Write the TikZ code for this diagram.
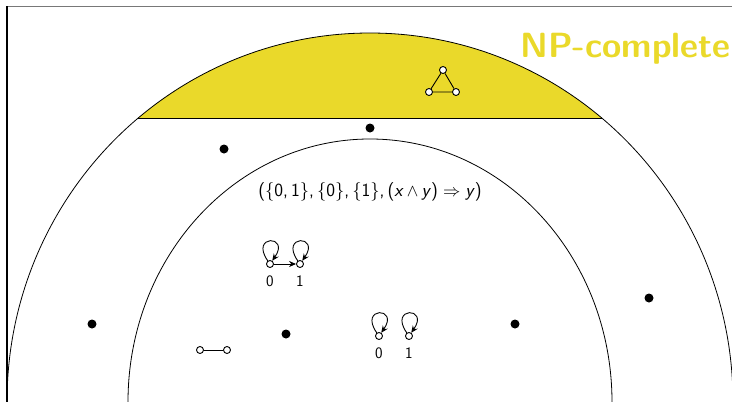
\documentclass[tikz,border=0pt]{standalone}
\usetikzlibrary{arrows.meta}
\definecolor{npyellow}{RGB}{234,217,42}
\definecolor{framegray}{RGB}{120,120,120}
\tikzset{
  vert/.style={circle,draw,inner sep=0pt,minimum size=7pt,fill=white,line width=0.9pt},
  bigdot/.style={circle,fill=black,inner sep=0pt,minimum size=9pt},
  lbl/.style={font=\fontsize{16}{18}\selectfont\sffamily,inner sep=0pt},
  gedge/.style={line width=0.9pt},
  garrow/.style={line width=0.9pt,-{Stealth[length=7pt,width=6pt]}},
  myloop/.style={line width=0.9pt,-{Stealth[length=7pt,width=6pt]},out=125,in=55,looseness=12,min distance=32pt},
}
\begin{document}
\begin{tikzpicture}[x=1pt,y=-1pt]
\useasboundingbox (0,0) rectangle (732,402);
\clip (0,0) rectangle (732,402);
% frame
\draw[framegray,line width=1.5pt] (7,6.5) -- (740,6.5);
\draw[black,line width=1.2pt] (7,6) -- (7,410);
% yellow cap
\begin{scope}
\clip (0,0) rectangle (732,118);
\fill[npyellow] (370,402) ellipse [x radius=363pt, y radius=369pt];
\end{scope}
\coordinate (chL) at (138.2,118);
\coordinate (chR) at (601.8,118);
\draw[line width=0.8pt] (chL) -- (chR);
\draw[line width=0.8pt] (370,402) ellipse [x radius=363pt, y radius=369pt];
\draw[line width=0.8pt] (370,402) ellipse [x radius=242pt, y radius=263pt];
% title
\node[anchor=base east,text=npyellow,font=\fontsize{35}{40}\selectfont\sffamily\bfseries,inner sep=0pt] (title) at (731,57) {NP-complete};
% dots
\node[bigdot] (d1) at (370,128) {};
\node[bigdot] (d2) at (224,149) {};
\node[bigdot] (d3) at (92,324) {};
\node[bigdot] (d4) at (286,334) {};
\node[bigdot] (d5) at (515,324) {};
\node[bigdot] (d6) at (649,298) {};
% triangle
\node[vert] (t1) at (443,70) {};
\node[vert] (t2) at (429,92) {};
\node[vert] (t3) at (456,92) {};
\draw[gedge] (t1) -- (t2) (t2) -- (t3) (t3) -- (t1);
% text
\node[font=\fontsize{18.6}{22}\selectfont\sffamily] (txt) at (370,192)
  {(\{0,\,1\},\,\{0\},\,\{1\},\,(\textsl{x}\,$\wedge$\,\textsl{y})\;$\Rightarrow$\;\textsl{y})};
% graph A
\node[vert] (a0) at (270,264) {};
\node[vert] (a1) at (300,264) {};
\draw[garrow] (a0) -- (a1);
\draw[myloop] (a0) to (a0);
\draw[myloop] (a1) to (a1);
\node[lbl] (la0) at (270,281) {0};
\node[lbl] (la1) at (300,281) {1};
% graph B
\node[vert] (b0) at (379,336) {};
\node[vert] (b1) at (409,336) {};
\draw[myloop] (b0) to (b0);
\draw[myloop] (b1) to (b1);
\node[lbl] (lb0) at (379,353) {0};
\node[lbl] (lb1) at (409,353) {1};
% graph C
\node[vert] (c0) at (200,350) {};
\node[vert] (c1) at (227,350) {};
\draw[gedge] (c0) -- (c1);
\end{tikzpicture}
\end{document}
